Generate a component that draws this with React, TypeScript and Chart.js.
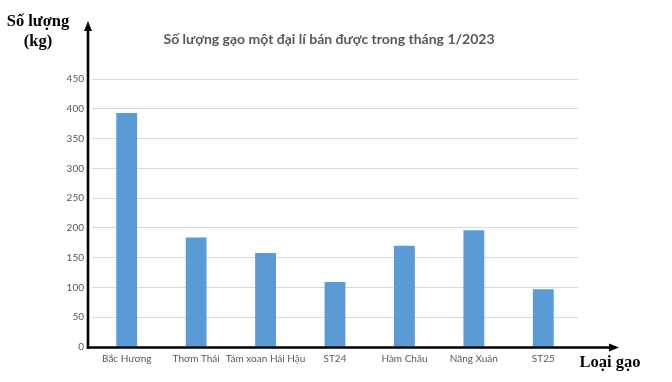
import React, { useEffect, useRef } from "react";
import { Chart, registerables } from "chart.js";

Chart.register(...registerables);

const categories = ["Bắc Hương", "Thơm Thái", "Tám xoan Hải Hậu", "ST24", "Hàm Châu", "Năng Xuân", "ST25"];
const values = [393, 184, 158, 109, 170, 196, 97];
const yTicks = [0, 50, 100, 150, 200, 250, 300, 350, 400, 450];
const titleText = "Số lượng gạo một đại lí bán được trong tháng 1/2023";
const yTitle = ["Số lượng", "(kg)"];
const xTitle = "Loại gạo";

const decorPlugin = {
  id: "decor",
  afterDraw(chart: any) {
    const { ctx, chartArea } = chart;
    const ax = chartArea.left - 4;
    const ay = chartArea.bottom + 0.5;
    ctx.save();
    ctx.strokeStyle = "#000";
    ctx.fillStyle = "#000";
    ctx.lineWidth = 2.6;
    // y axis
    ctx.beginPath();
    ctx.moveTo(ax, ay + 1.2);
    ctx.lineTo(ax, 28);
    ctx.stroke();
    ctx.beginPath();
    ctx.moveTo(ax, 21);
    ctx.lineTo(ax - 4, 31);
    ctx.lineTo(ax + 4, 31);
    ctx.closePath();
    ctx.fill();
    // x axis
    ctx.beginPath();
    ctx.moveTo(ax - 1.2, ay);
    ctx.lineTo(611, ay);
    ctx.stroke();
    ctx.beginPath();
    ctx.moveTo(619, ay);
    ctx.lineTo(609, ay - 4);
    ctx.lineTo(609, ay + 4);
    ctx.closePath();
    ctx.fill();

    // axis titles
    ctx.font = "bold 16.5px 'Liberation Serif'";
    ctx.textAlign = "center";
    ctx.textBaseline = "alphabetic";
    ctx.fillText(yTitle[0], 38, 26);
    ctx.fillText(yTitle[1], 38, 46);
    ctx.fillText(xTitle, 610, 367);

    // chart title
    ctx.fillStyle = "#595959";
    ctx.font = "bold 14px Lato";
    ctx.fillText(titleText, 329, 44);
    ctx.restore();
  },
};

export default function App() {
  const ref = useRef<HTMLCanvasElement>(null);
  useEffect(() => {
    const chart = new Chart(ref.current as HTMLCanvasElement, {
      type: "bar",
      data: {
        labels: categories,
        datasets: [
          {
            data: values,
            backgroundColor: "#5b9bd5",
            borderWidth: 0,
            categoryPercentage: 0.6,
            barPercentage: 0.5,
          },
        ],
      },
      options: {
        responsive: false,
        animation: false,
        devicePixelRatio: 1,
        layout: { padding: { left: 0, right: 94, top: 79, bottom: 0 } },
        plugins: { legend: { display: false }, title: { display: false }, tooltip: { enabled: false } },
        scales: {
          x: {
            grid: { display: false, drawTicks: false },
            border: { display: false },
            ticks: { color: "#595959", font: { family: "Lato", size: 10 }, padding: 6, maxRotation: 0, autoSkip: false },
            afterFit(scale: any) {
              scale.height = 35;
            },
          },
          y: {
            min: 0,
            max: 450,
            afterBuildTicks(scale: any) {
              scale.ticks = yTicks.map((v) => ({ value: v }));
            },
            grid: { color: "#d9d9d9", lineWidth: 1, drawTicks: false },
            border: { display: false },
            ticks: { color: "#595959", font: { family: "Lato", size: 10 }, padding: 8 },
            afterFit(scale: any) {
              scale.width = 92;
            },
          },
        },
      },
      plugins: [decorPlugin],
    });
    return () => chart.destroy();
  }, []);
  return (
    <div style={{ position: "absolute", left: 0, top: 0, width: 672, height: 382, background: "#fff" }}>
      <canvas ref={ref} width={672} height={382} />
    </div>
  );
}
